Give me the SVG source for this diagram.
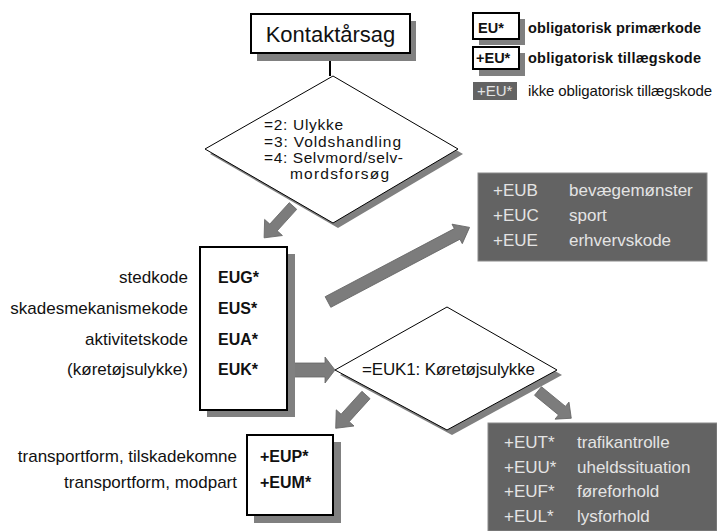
<svg xmlns="http://www.w3.org/2000/svg" width="717" height="531" viewBox="0 0 717 531">
<style>
text{font-family:"Liberation Sans",Arial,sans-serif;fill:#111}
.t{font-size:17px}
.d{font-size:15.5px}
.b{font-size:16px;font-weight:bold}
.lb{font-size:14.5px;font-weight:bold}
.r{text-anchor:end}
.wbox{fill:#fff;stroke:#000;stroke-width:2}
.sh{fill:#808080}
.dbox{fill:#636363;stroke:#8a8a8a;stroke-width:1}
.lt{fill:#e4e4e4}
.dia{fill:#fff;stroke:#000;stroke-width:1}
.arr{fill:#7c7c7c;stroke:#656565;stroke-width:0.8}
</style>
<rect width="717" height="531" fill="#fff"/>

<g id="connectors">
  <line x1="330" y1="53" x2="330" y2="76" stroke="#000" stroke-width="2"/>
  <polygon class="arr" transform="translate(293,206) rotate(132.2)" points="0,-5 29,-5 29,-12 43,0 29,12 29,5 0,5"/>
  <polygon class="arr" transform="translate(328,302) rotate(-27.8)" points="0,-6 146,-6 146,-11 160,0 146,11 146,6 0,6"/>
  <polygon class="arr" points="293,363 325,363 325,357 335,370 325,383 325,377 293,377"/>
  <polygon class="arr" transform="translate(366,395) rotate(132.3)" points="0,-5.5 31,-5.5 31,-12 45,0 31,12 31,5.5 0,5.5"/>
  <polygon class="arr" transform="translate(538,391) rotate(39.3)" points="0,-5.5 31,-5.5 31,-11 43,0 31,11 31,5.5 0,5.5"/>
</g>

<g id="kontaktarsag">
  <rect class="sh" x="257" y="21" width="159" height="40"/>
  <rect class="wbox" x="251" y="14" width="159" height="39"/>
  <text x="330.5" y="42" font-size="22" text-anchor="middle">Kontaktårsag</text>
</g>

<g id="legend">
  <rect class="sh" x="479" y="19" width="46" height="26"/>
  <rect class="wbox" x="473" y="13" width="46" height="26"/>
  <text class="lb" x="478" y="33">EU*</text>
  <text class="lb" x="528" y="33" textLength="173">obligatorisk primærkode</text>
  <rect class="sh" x="479" y="53" width="46" height="23"/>
  <rect class="wbox" x="473" y="47" width="46" height="22"/>
  <text class="lb" x="476" y="63">+EU*</text>
  <text class="lb" x="528" y="63" textLength="173">obligatorisk tillægskode</text>
  <rect x="473" y="82" width="44" height="18" fill="#636363"/>
  <text class="lt" x="477" y="96" font-size="15">+EU*</text>
  <text x="528" y="96" font-size="15" textLength="184">ikke obligatorisk tillægskode</text>
</g>

<g id="diamond1">
  <polygon class="sh" points="338,81 463,154 338,228 210,154"/>
  <polygon class="dia" points="333,76 458,149 333,223 205,149"/>
  <text class="d" x="264" y="130" textLength="79">=2: Ulykke</text>
  <text class="d" x="264" y="147" textLength="137">=3: Voldshandling</text>
  <text class="d" x="264" y="163" textLength="139">=4: Selvmord/selv-</text>
  <text class="d" x="290" y="179" textLength="99">mordsforsøg</text>
</g>

<g id="eub-box">
  <rect class="dbox" x="478" y="173" width="229" height="88"/>
  <text class="t lt" x="493" y="196">+EUB</text>
  <text class="t lt" x="569" y="196">bevægemønster</text>
  <text class="t lt" x="493" y="221">+EUC</text>
  <text class="t lt" x="569" y="221">sport</text>
  <text class="t lt" x="493" y="246">+EUE</text>
  <text class="t lt" x="569" y="246">erhvervskode</text>
</g>

<g id="eug-box">
  <rect class="sh" x="207" y="254" width="88" height="163"/>
  <rect class="wbox" x="200" y="247" width="87" height="163"/>
  <text class="b" x="218" y="283">EUG*</text>
  <text class="b" x="218" y="314">EUS*</text>
  <text class="b" x="218" y="345">EUA*</text>
  <text class="b" x="218" y="375">EUK*</text>
  <text class="t r" x="188" y="283">stedkode</text>
  <text class="t r" x="188" y="314">skadesmekanismekode</text>
  <text class="t r" x="188" y="345">aktivitetskode</text>
  <text class="t r" x="188" y="375">(køretøjsulykke)</text>
</g>

<g id="diamond2">
  <polygon class="sh" points="452,312 562,375 452,435 340,375"/>
  <polygon class="dia" points="447,307 557,370 447,430 335,370"/>
  <text class="t" x="362" y="375" textLength="173">=EUK1: Køretøjsulykke</text>
</g>

<g id="eup-box">
  <rect class="sh" x="254" y="442" width="87" height="81"/>
  <rect class="wbox" x="247" y="435" width="86" height="80"/>
  <text class="b" x="260" y="462">+EUP*</text>
  <text class="b" x="260" y="488">+EUM*</text>
  <text class="t r" x="237" y="462">transportform, tilskadekomne</text>
  <text class="t r" x="237" y="488">transportform, modpart</text>
</g>

<g id="eut-box">
  <rect class="dbox" x="488" y="423" width="229" height="108"/>
  <text class="t lt" x="504" y="448">+EUT*</text>
  <text class="t lt" x="577" y="448">trafikantrolle</text>
  <text class="t lt" x="504" y="473">+EUU*</text>
  <text class="t lt" x="577" y="473">uheldssituation</text>
  <text class="t lt" x="504" y="497">+EUF*</text>
  <text class="t lt" x="577" y="497">føreforhold</text>
  <text class="t lt" x="504" y="522">+EUL*</text>
  <text class="t lt" x="577" y="522">lysforhold</text>
</g>
</svg>
